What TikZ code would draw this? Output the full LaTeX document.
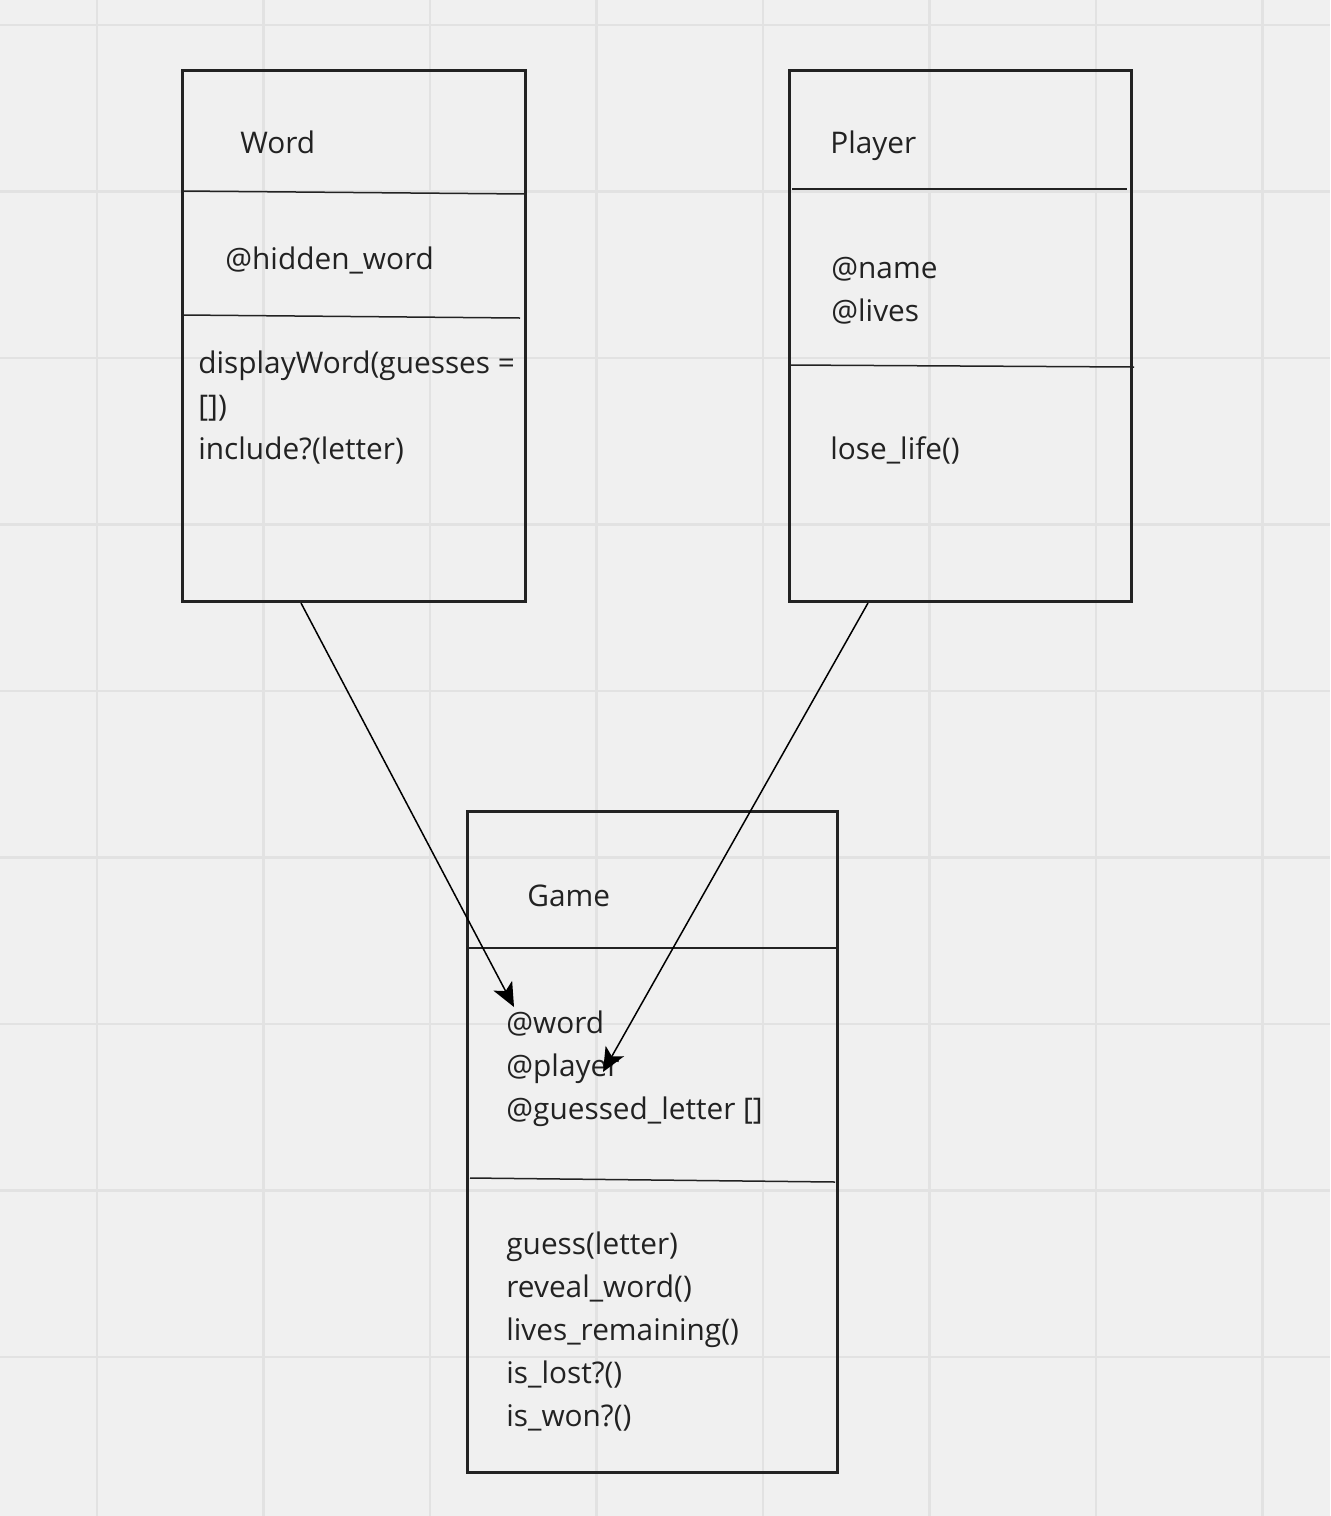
\documentclass[tikz,border=0pt]{standalone}
\usepackage{fontspec}
\setmainfont{Open Sans}
\usetikzlibrary{arrows.meta,positioning}
\definecolor{canvas}{HTML}{F0F0F0}
\definecolor{gridgray}{HTML}{E2E2E2}
\definecolor{boxline}{HTML}{222222}

\begin{document}
\begin{tikzpicture}[x=0.5pt,y=-0.5pt,
    umlbox/.style={draw=boxline, line width=1.5pt, inner sep=0pt, outer sep=0pt, anchor=north west},
    divider/.style={draw=boxline, line width=0.75pt},
    txt/.style={anchor=base west, inner sep=0pt, align=left,
      font=\fontsize{14.9}{21.5}\selectfont, text=boxline},
    link/.style={draw=black, line width=0.75pt, -{Stealth[length=12pt,width=10.5pt,inset=3pt]}}
  ]
  \fill[canvas] (0,0) rectangle (1330,1516);
  \useasboundingbox (0,0) rectangle (1330,1516);
  \foreach \gx in {97,263.5,...,1300}
    \draw[gridgray, line width=1.1pt] (\gx,0) -- (\gx,1516);
  \foreach \gy in {25,191.5,...,1500}
    \draw[gridgray, line width=1.1pt] (0,\gy) -- (1330,\gy);

  % classes
  \node[umlbox, minimum width=171.5pt, minimum height=265.5pt] (word) at (182,70) {};
  \node[umlbox, minimum width=171pt, minimum height=265.5pt] (player) at (789,70) {};
  \node[umlbox, minimum width=185pt, minimum height=330.5pt] (game) at (467,811) {};

  \draw[divider] (182,191) -- (526,194);
  \draw[divider] (183,315) -- (520,318);
  \draw[divider] (792,189) -- (1127,189);
  \draw[divider] (789,365) -- (1134,367);
  \draw[divider] (467,948) -- (837,948);
  \draw[divider] (470,1178) -- (835,1182);

  % text nodes sit on the baseline of their last line
  \node[txt] (wordname) at (240,153) {Word};
  \node[txt] (wordattr) at (225,269) {@hidden\_word};
  \node[txt] (wordops) at (198,459) {displayWord(guesses =\\{[]})\\include?(letter)};

  \node[txt] (playername) at (830,153) {Player};
  \node[txt] (playerattr) at (831,321) {@name\\@lives};
  \node[txt] (playerops) at (830,459) {lose\_life()};

  \node[txt] (gamename) at (527,906) {Game};
  \node[txt] (gameattr) at (506,1119) {@word\\@player\\@guessed\_letter []};
  \node[txt] (gameops) at (506,1426) {guess(letter)\\reveal\_word()\\lives\_remaining()\\is\_lost?()\\is\_won?()};

  % associations
  \coordinate (wordout) at (301,603);
  \coordinate (playerout) at (868,603);
  \coordinate (gameword) at (514,1007);
  \coordinate (gameplayer) at (603,1072);
  \draw[link] (wordout) -- (gameword);
  \draw[link] (playerout) -- (gameplayer);
\end{tikzpicture}
\end{document}
